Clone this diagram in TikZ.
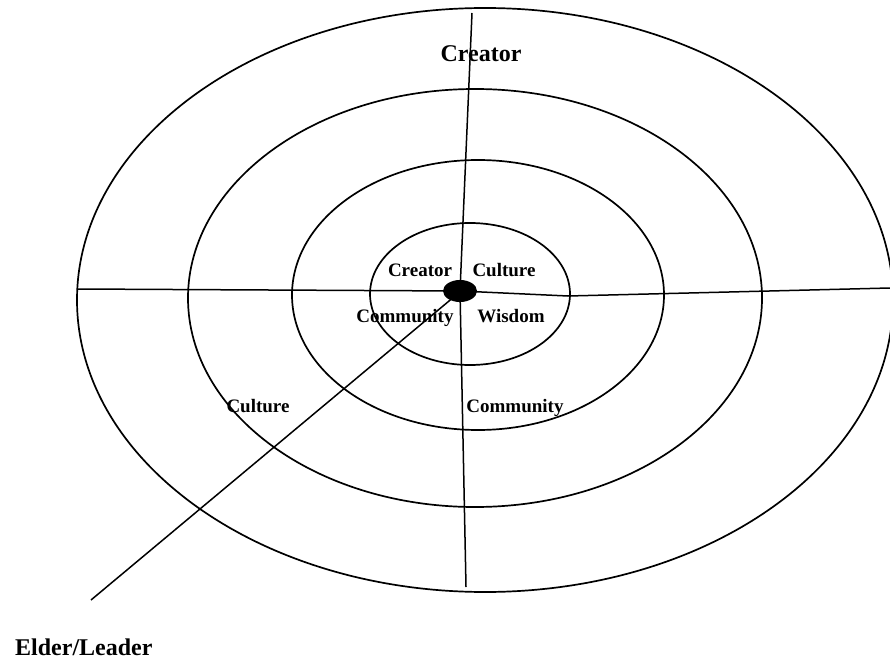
\documentclass[tikz,border=0pt]{standalone}
\usepackage{fontspec}
\setmainfont{Liberation Serif}
\usetikzlibrary{shapes.geometric}
\begin{document}
\begin{tikzpicture}[x=1pt,y=1pt,
  ring/.style={line width=1.7pt},
  axis/.style={line width=1.5pt},
  biglbl/.style={font=\fontsize{24}{26}\selectfont\bfseries, inner sep=0pt, anchor=base},
  lbl/.style={font=\fontsize{19}{21}\selectfont\bfseries, inner sep=0pt, anchor=base}]
\useasboundingbox (0,0) rectangle (890,662);
% rings (y measured from top: Y = 662 - y)
\draw[ring] (485,362) ellipse [x radius=408, y radius=292];
\draw[ring] (475,364) ellipse [x radius=287, y radius=209];
\draw[ring] (478,367) ellipse [x radius=186, y radius=135];
\draw[ring] (470,368) ellipse [x radius=100, y radius=71];
% axis end points
\coordinate (L) at (77,373);
\coordinate (K) at (568,366);
\coordinate (R) at (890,374);
\coordinate (T) at (472,649);
\coordinate (B) at (466,75);
\coordinate (E) at (91,62);
\coordinate (D) at (455,366);
\draw[axis] (L) -- (460,371) -- (K) -- (R);
\draw[axis] (T) -- (460,371) -- (B);
\draw[axis] (D) -- (E);
% centre dot
\node[fill=black, ellipse, minimum width=34pt, minimum height=22pt, inner sep=0pt] (dot) at (460,371) {};
% labels
\node[biglbl] (t1) at (481,600) {Creator};
\node[lbl] (c1) at (420,385) {Creator};
\node[lbl] (c2) at (504,385) {Culture};
\node[lbl] (c3) at (405,340) {Community};
\node[lbl] (c4) at (511,340) {Wisdom};
\node[lbl] (c5) at (258,250) {Culture};
\node[lbl] (c6) at (515,250) {Community};
\node[biglbl, anchor=base west] (el) at (15,7) {Elder/Leader};
\end{tikzpicture}
\end{document}
